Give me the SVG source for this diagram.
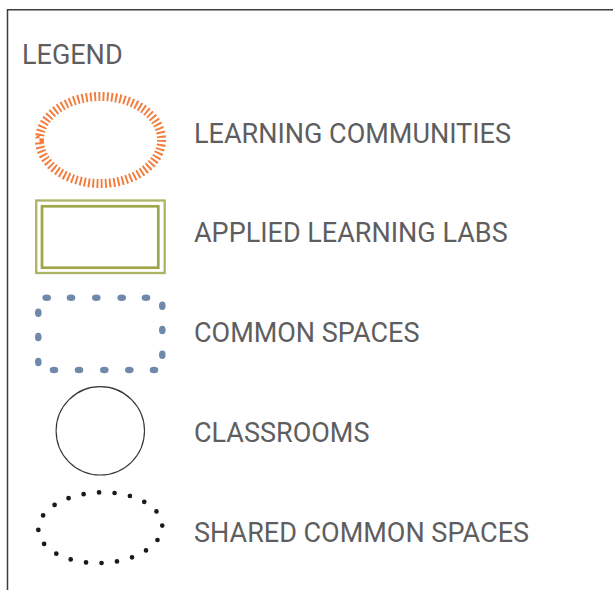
<svg xmlns="http://www.w3.org/2000/svg" width="613" height="590" viewBox="0 0 613 590">
  <style>
    .lbl { font-family: Roboto, "Liberation Sans", sans-serif; font-size: 27px; font-weight: 400; fill: #5e5e60; }
    .frame { fill: none; stroke: #3d3d3d; stroke-width: 1.5; }
    .lc { fill: none; stroke: #f47a3a; stroke-width: 9; stroke-dasharray: 0.45 0.55; }
    .lab { fill: none; stroke: #9ea649; }
    .cs { fill: #7089ab; }
    .cr { fill: none; stroke: #333333; stroke-width: 1.1; }
    .scs { fill: none; stroke: #1a1a1a; stroke-width: 4.7; stroke-linecap: round; stroke-dasharray: 0 1; }
  </style>
  <rect width="613" height="590" fill="#ffffff"/>
  <path class="frame" d="M7.5,590 V9.8 H613"/>
  <text class="lbl" x="22" y="63.5">LEGEND</text>

  <g id="learning-communities">
    <ellipse class="lc" cx="100.5" cy="140" rx="61" ry="43.5" pathLength="78"/>
    <text class="lbl" x="194" y="143.3">LEARNING COMMUNITIES</text>
  </g>

  <g id="applied-learning-labs">
    <rect class="lab" x="36.2" y="200.5" width="128.5" height="72.5" stroke-width="2.3" opacity="0.85"/>
    <rect class="lab" x="42" y="206.3" width="116.3" height="61.4" stroke-width="2.7"/>
    <text class="lbl" x="194" y="241.7">APPLIED LEARNING LABS</text>
  </g>

  <g id="common-spaces">
    <g class="cs">
      <ellipse cx="46.7" cy="297.7" rx="4.3" ry="3.3"/>
      <ellipse cx="71" cy="297.7" rx="4.3" ry="3.3"/>
      <ellipse cx="96.3" cy="297.7" rx="4.3" ry="3.3"/>
      <ellipse cx="121.7" cy="297.7" rx="4.3" ry="3.3"/>
      <ellipse cx="146" cy="297.7" rx="4.3" ry="3.3"/>
      <ellipse cx="54" cy="370" rx="4.3" ry="3.3"/>
      <ellipse cx="79" cy="370" rx="4.3" ry="3.3"/>
      <ellipse cx="104.3" cy="370" rx="4.3" ry="3.3"/>
      <ellipse cx="129.3" cy="370" rx="4.3" ry="3.3"/>
      <ellipse cx="154" cy="370" rx="4.3" ry="3.3"/>
      <ellipse cx="38.3" cy="312.7" rx="3.3" ry="4.3"/>
      <ellipse cx="38.3" cy="337" rx="3.3" ry="4.3"/>
      <ellipse cx="38.3" cy="362" rx="3.3" ry="4.3"/>
      <ellipse cx="162.3" cy="305.7" rx="3.3" ry="4.3"/>
      <ellipse cx="162.3" cy="330" rx="3.3" ry="4.3"/>
      <ellipse cx="162.3" cy="354.7" rx="3.3" ry="4.3"/>
    </g>
    <text class="lbl" x="194" y="341.7">COMMON SPACES</text>
  </g>

  <g id="classrooms">
    <circle class="cr" cx="100.3" cy="430.8" r="44.2"/>
    <text class="lbl" x="194" y="441.7">CLASSROOMS</text>
  </g>

  <g id="shared-common-spaces">
    <ellipse class="scs" cx="100.3" cy="527.7" rx="62" ry="35.3" pathLength="20" transform="rotate(-2 100.3 527.7)"/>
    <text class="lbl" x="194" y="541.7">SHARED COMMON SPACES</text>
  </g>
</svg>
